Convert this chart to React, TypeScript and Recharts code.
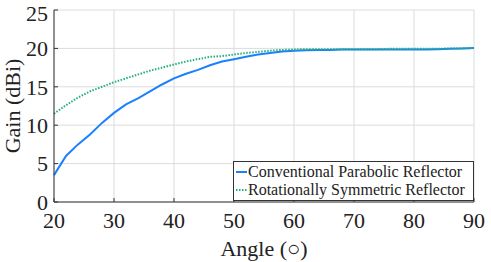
import { LineChart, Line, XAxis, YAxis, CartesianGrid } from 'recharts';

const angles = [20, 22, 24, 26, 28, 30, 32, 34, 36, 38, 40, 42, 44, 46, 48, 50, 52, 54, 56, 58, 60, 62, 64, 66, 68, 70, 72, 74, 76, 78, 80, 82, 84, 86, 88, 90];
const conventional = [3.5, 6.0, 7.5, 8.8, 10.3, 11.6, 12.7, 13.5, 14.4, 15.3, 16.1, 16.7, 17.2, 17.8, 18.3, 18.6, 18.9, 19.2, 19.4, 19.6, 19.7, 19.75, 19.8, 19.8, 19.85, 19.85, 19.85, 19.85, 19.85, 19.85, 19.85, 19.85, 19.9, 19.95, 20.0, 20.05];
const symmetric = [11.5, 12.6, 13.6, 14.4, 15.0, 15.6, 16.1, 16.6, 17.1, 17.5, 17.9, 18.3, 18.6, 18.9, 19.0, 19.2, 19.4, 19.55, 19.7, 19.8, 19.85, 19.9, 19.9, 19.9, 19.9, 19.9, 19.9, 19.9, 19.95, 19.95, 19.95, 19.95, 19.95, 20.0, 20.0, 20.05];
const xTicks = [20, 30, 40, 50, 60, 70, 80, 90];
const yTicks = [0, 5, 10, 15, 20, 25];
const seriesNames = ['Conventional Parabolic Reflector', 'Rotationally Symmetric Reflector'];

const data = angles.map((a, i) => ({ angle: a, conv: conventional[i], sym: symmetric[i] }));

const font = 'Liberation Serif, serif';
const blue = '#1a80ff';
const green = '#1fb27a';

// legend drawn as an overlay so it doesn't eat plot space
function LegendBox() {
  const rows = [
    { label: seriesNames[0], color: blue, dash: undefined },
    { label: seriesNames[1], color: green, dash: '1.5 1.5' },
  ];
  return (
    <div style={{ position: 'absolute', left: 233, top: 161, width: 241, height: 40, boxSizing: 'border-box', border: '1px solid #333', background: '#fff', padding: '1px 2px', fontFamily: font, fontSize: 16, color: '#222', lineHeight: '18px', whiteSpace: 'nowrap' }}>
      {rows.map((r) => (
        <div key={r.label} style={{ display: 'flex', alignItems: 'center' }}>
          <svg width={11} height={4} style={{ marginRight: 1 }}>
            <line x1={0} y1={2} x2={11} y2={2} stroke={r.color} strokeWidth={2} strokeDasharray={r.dash} />
          </svg>
          <span>{r.label}</span>
        </div>
      ))}
    </div>
  );
}

export default function App() {
  return (
    <div style={{ position: 'fixed', left: 0, top: 0, width: 491, height: 262, background: '#fff' }}>
      <LineChart width={491} height={262} data={data} margin={{ top: 10, right: 17, left: 0, bottom: 0 }}>
        <CartesianGrid stroke="#dcdcdc" strokeWidth={1} />
        <XAxis
          dataKey="angle"
          type="number"
          domain={[20, 90]}
          ticks={xTicks}
          height={60}
          stroke="#333"
          tickSize={-4}
          tickMargin={14}
          tick={{ fill: '#222', fontSize: 22, fontFamily: font }}
          label={{ value: 'Angle (○)', position: 'insideBottom', offset: 6, fill: '#222', fontSize: 22, fontFamily: font }}
        />
        <XAxis xAxisId="top" orientation="top" dataKey="angle" type="number" domain={[20, 90]} ticks={xTicks} height={0} stroke="#333" tick={false} />
        <YAxis
          type="number"
          domain={[0, 25]}
          ticks={yTicks}
          width={54}
          stroke="#333"
          tickSize={-4}
          tickMargin={10}
          tick={{ fill: '#222', fontSize: 22, fontFamily: font }}
          label={{ value: 'Gain (dBi)', angle: -90, position: 'insideLeft', offset: 12, style: { textAnchor: 'middle' }, fill: '#222', fontSize: 22, fontFamily: font }}
        />
        <YAxis yAxisId="right" orientation="right" type="number" domain={[0, 25]} ticks={yTicks} width={0} stroke="#333" tick={false} />
        <Line dataKey="conv" name={seriesNames[0]} stroke={blue} strokeWidth={2} dot={false} isAnimationActive={false} />
        <Line dataKey="sym" name={seriesNames[1]} stroke={green} strokeWidth={2} strokeDasharray="1.5 1.5" dot={false} isAnimationActive={false} />
      </LineChart>
      <LegendBox />
    </div>
  );
}
